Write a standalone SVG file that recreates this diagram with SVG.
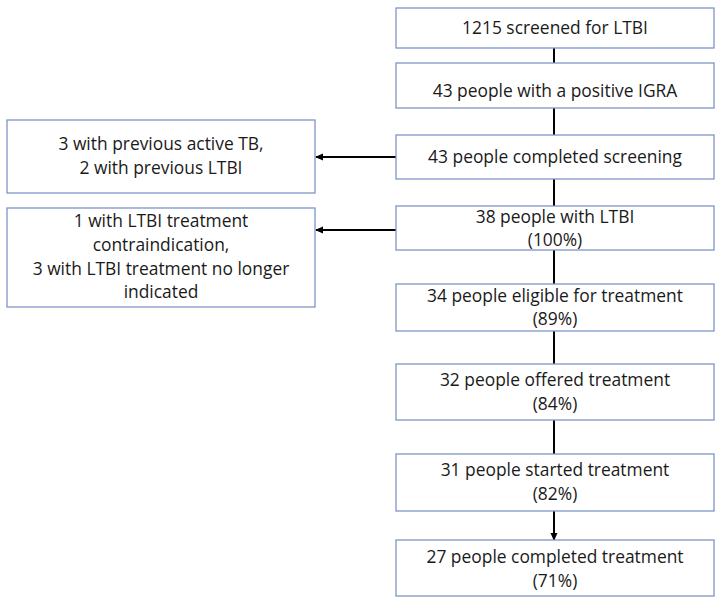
<svg xmlns="http://www.w3.org/2000/svg" width="722" height="601" viewBox="0 0 722 601">
<style>
.box{fill:#fff;stroke:#7f96c6;stroke-width:1.3}
.t{font-family:"Open Sans","Liberation Sans",sans-serif;font-size:17.4px;fill:#1a1a1a;text-anchor:middle}
.c{stroke:#000;stroke-width:2;fill:none}
</style>
<defs>
<marker id="ah" markerWidth="8" markerHeight="8" refX="7" refY="4" orient="auto" markerUnits="userSpaceOnUse">
<path d="M0,0.5 L8,4 L0,7.5 Z" fill="#000"/>
</marker>
</defs>
<rect width="722" height="601" fill="#fff"/>
<g id="connectors">
<line class="c" x1="554" y1="48" x2="554" y2="63"/>
<line class="c" x1="554" y1="108" x2="554" y2="135"/>
<line class="c" x1="554" y1="179" x2="554" y2="206"/>
<line class="c" x1="554" y1="250" x2="554" y2="284"/>
<line class="c" x1="554" y1="331" x2="554" y2="364"/>
<line class="c" x1="554" y1="420" x2="554" y2="454"/>
<line class="c" x1="554" y1="511" x2="554" y2="540" marker-end="url(#ah)"/>
<line class="c" x1="396" y1="157" x2="316" y2="157" marker-end="url(#ah)"/>
<line class="c" x1="396" y1="230" x2="316" y2="230" marker-end="url(#ah)"/>
</g>
<g id="n1"><rect class="box" x="396" y="8" width="318" height="40"/><text class="t" x="555" y="34">1215 screened for LTBI</text></g>
<g id="n2"><rect class="box" x="396" y="63" width="318" height="45"/><text class="t" x="555" y="97">43 people with a positive IGRA</text></g>
<g id="n3"><rect class="box" x="396" y="135" width="318" height="44"/><text class="t" x="555" y="163">43 people completed screening</text></g>
<g id="n4"><rect class="box" x="396" y="206" width="318" height="44"/><text class="t" x="555" y="223">38 people with LTBI</text><text class="t" x="555" y="246">(100%)</text></g>
<g id="n5"><rect class="box" x="396" y="284" width="318" height="47"/><text class="t" x="555" y="302">34 people eligible for treatment</text><text class="t" x="555" y="325">(89%)</text></g>
<g id="n6"><rect class="box" x="396" y="364" width="318" height="56"/><text class="t" x="555" y="386">32 people offered treatment</text><text class="t" x="555" y="410">(84%)</text></g>
<g id="n7"><rect class="box" x="396" y="454" width="318" height="57"/><text class="t" x="555" y="476">31 people started treatment</text><text class="t" x="555" y="500">(82%)</text></g>
<g id="n8"><rect class="box" x="396" y="540" width="318" height="56"/><text class="t" x="555" y="563">27 people completed treatment</text><text class="t" x="555" y="587">(71%)</text></g>
<g id="a1"><rect class="box" x="7" y="120" width="308" height="73"/><text class="t" x="161" y="150">3 with previous active TB,</text><text class="t" x="161" y="174">2 with previous LTBI</text></g>
<g id="a2"><rect class="box" x="7" y="208" width="308" height="99"/><text class="t" x="161" y="227">1 with LTBI treatment</text><text class="t" x="161" y="251">contraindication,</text><text class="t" x="161" y="275">3 with LTBI treatment no longer</text><text class="t" x="161" y="298">indicated</text></g>
</svg>
